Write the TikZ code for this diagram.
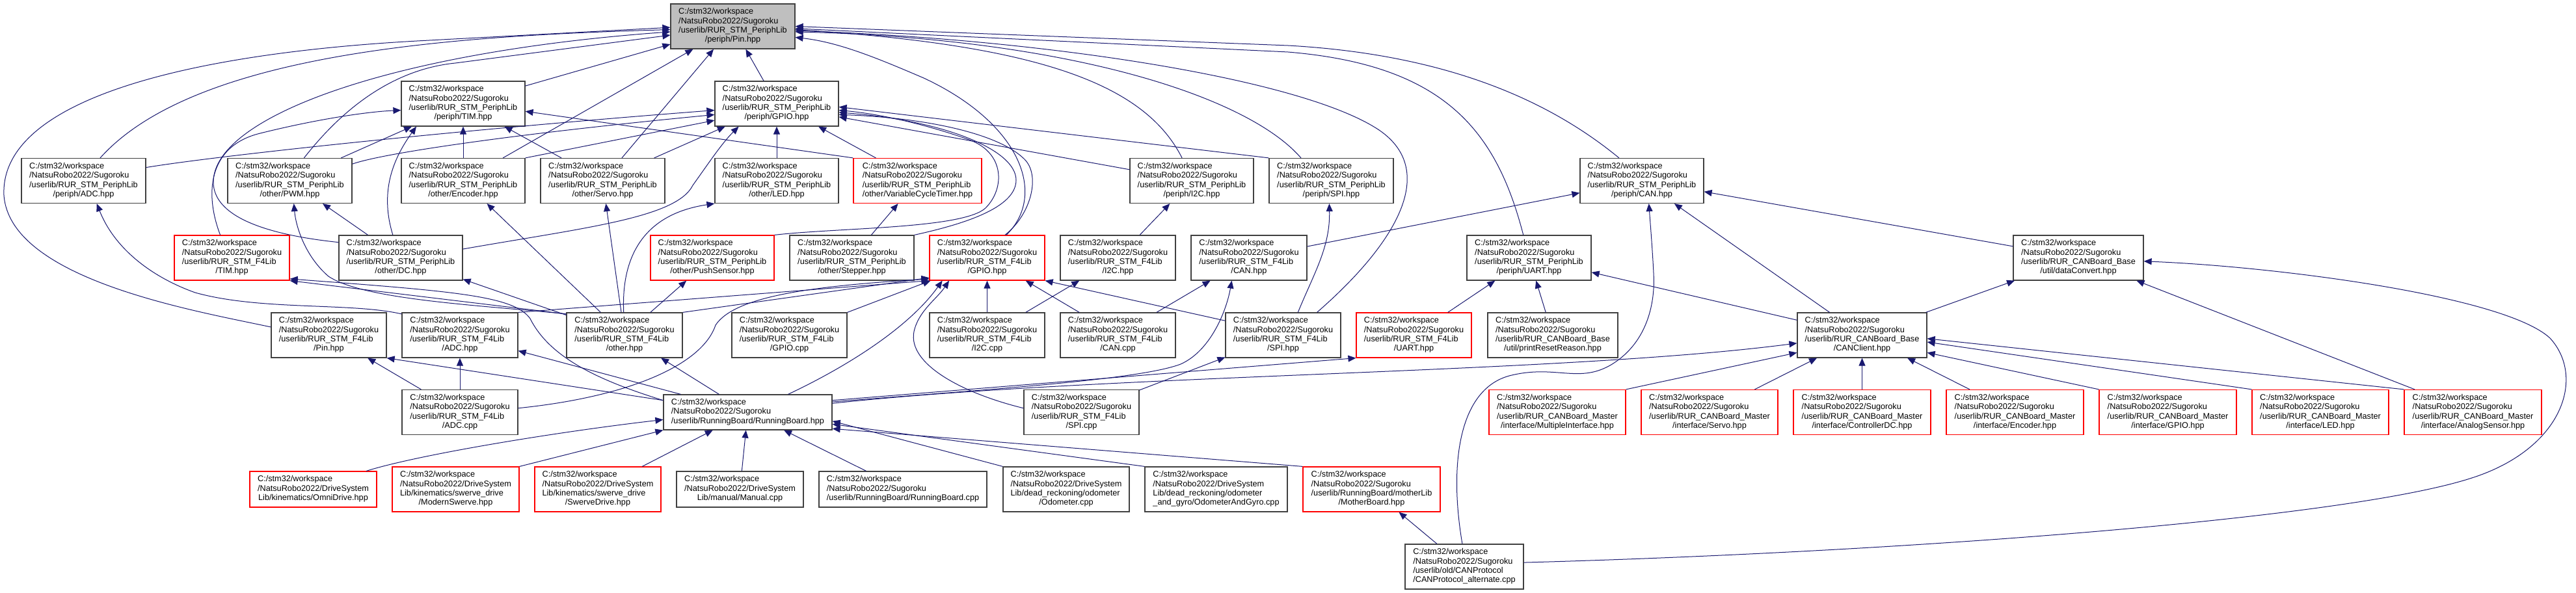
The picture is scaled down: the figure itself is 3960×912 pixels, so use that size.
\documentclass[tikz,border=0pt]{standalone}
\usepackage{fontspec}
\setmainfont{Liberation Sans}
\usetikzlibrary{arrows.meta}

\definecolor{edgeblue}{RGB}{25,25,112}
\definecolor{boxgray}{RGB}{64,64,64}
\definecolor{boxred}{RGB}{255,0,0}
\definecolor{rootgray}{RGB}{191,191,191}

% file label: first lines left, last line centred
\newcommand{\incname}[2]{\begin{tabular}{@{}l@{}}#1\\\multicolumn{1}{@{}c@{}}{#2}\end{tabular}}
\newcommand{\sgk}{C:/stm32/workspace\\/NatsuRobo2022/Sugoroku}
\newcommand{\drv}{C:/stm32/workspace\\/NatsuRobo2022/DriveSystem}
\newcommand{\plib}{\sgk\\/userlib/RUR\_STM\_PeriphLib}
\newcommand{\flib}{\sgk\\/userlib/RUR\_STM\_F4Lib}
\newcommand{\cbase}{\sgk\\/userlib/RUR\_CANBoard\_Base}
\newcommand{\cmaster}{\sgk\\/userlib/RUR\_CANBoard\_Master}

\begin{document}
\begin{tikzpicture}[x=1pt, y=-1pt,
  hdr/.style     = {draw=boxgray, line width=1.2pt, fill=white, inner sep=0pt,
                    minimum height=69pt, font=\fontsize{12.7}{14.4}\selectfont},
  hdrred/.style  = {hdr, draw=boxred},
  hdrroot/.style = {hdr, fill=rootgray},
  inc/.style     = {-{Triangle[length=12pt,width=10pt]}, line width=1pt, edgeblue},
]
\path[use as bounding box, fill=white] (0,0) rectangle (3960,912);

% row 0 / 1
\node[hdrroot, minimum width=191pt] (pinp) at (1126.5,40.5) {\incname{\plib}{/periph/Pin.hpp}};
\node[hdr, minimum width=190pt] (timp)  at (712,159.5)  {\incname{\plib}{/periph/TIM.hpp}};
\node[hdr, minimum width=190pt] (gpiop) at (1194,159.5) {\incname{\plib}{/periph/GPIO.hpp}};

% row 2
\node[hdr, minimum width=191pt] (adcp)  at (128.5,278)  {\incname{\plib}{/periph/ADC.hpp}};
\node[hdr, minimum width=191pt] (pwm)   at (445.5,278)  {\incname{\plib}{/other/PWM.hpp}};
\node[hdr, minimum width=190pt] (enc)   at (712,278)    {\incname{\plib}{/other/Encoder.hpp}};
\node[hdr, minimum width=191pt] (servo) at (926.5,278)  {\incname{\plib}{/other/Servo.hpp}};
\node[hdr, minimum width=190pt] (led)   at (1194,278)   {\incname{\plib}{/other/LED.hpp}};
\node[hdrred, minimum width=197pt] (vct) at (1410.5,278) {\incname{\plib}{/other/VariableCycleTimer.hpp}};
\node[hdr, minimum width=190pt] (i2cp)  at (1832,278)   {\incname{\plib}{/periph/I2C.hpp}};
\node[hdr, minimum width=191pt] (spip)  at (2046.5,278) {\incname{\plib}{/periph/SPI.hpp}};
\node[hdr, minimum width=190pt] (canp)  at (2524,278)   {\incname{\plib}{/periph/CAN.hpp}};

% row 3
\node[hdrred, minimum width=177pt] (timf) at (356.5,396.5) {\incname{\flib}{/TIM.hpp}};
\node[hdr, minimum width=190pt] (dc)      at (616,396.5)    {\incname{\plib}{/other/DC.hpp}};
\node[hdrred, minimum width=190pt] (push) at (1095,396.5)   {\incname{\plib}{/other/PushSensor.hpp}};
\node[hdr, minimum width=191pt] (stepper) at (1309.5,396.5) {\incname{\plib}{/other/Stepper.hpp}};
\node[hdrred, minimum width=177pt] (gpiof) at (1517.5,396.5) {\incname{\flib}{/GPIO.hpp}};
\node[hdr, minimum width=177pt] (i2cf)    at (1718.5,396.5) {\incname{\flib}{/I2C.hpp}};
\node[hdr, minimum width=178pt] (canf)    at (1920,396.5)   {\incname{\flib}{/CAN.hpp}};
\node[hdr, minimum width=191pt] (uartp)   at (2350.5,396.5) {\incname{\plib}{/periph/UART.hpp}};
\node[hdr, minimum width=200pt] (dconv)   at (3195,396.5)   {\incname{\cbase}{/util/dataConvert.hpp}};

% row 4
\node[hdr, minimum width=177pt] (pinf)    at (505.5,515.5)  {\incname{\flib}{/Pin.hpp}};
\node[hdr, minimum width=178pt] (adcf)    at (707,515.5)    {\incname{\flib}{/ADC.hpp}};
\node[hdr, minimum width=178pt] (oth)     at (960,515.5)    {\incname{\flib}{/other.hpp}};
\node[hdr, minimum width=177pt] (gpiocpp) at (1213.5,515.5) {\incname{\flib}{/GPIO.cpp}};
\node[hdr, minimum width=177pt] (i2ccpp)  at (1517.5,515.5) {\incname{\flib}{/I2C.cpp}};
\node[hdr, minimum width=177pt] (cancpp)  at (1718.5,515.5) {\incname{\flib}{/CAN.cpp}};
\node[hdr, minimum width=177pt] (spif)    at (1972.5,515.5) {\incname{\flib}{/SPI.hpp}};
\node[hdrred, minimum width=177pt] (uartf) at (2173.5,515.5) {\incname{\flib}{/UART.hpp}};
\node[hdr, minimum width=200pt] (prr)     at (2387,515.5)   {\incname{\cbase}{/util/printResetReason.hpp}};
\node[hdr, minimum width=199pt] (cancl)   at (2862.5,515.5) {\incname{\cbase}{/CANClient.hpp}};

% row 5
\node[hdr, minimum width=178pt] (adccpp) at (707,634) {\incname{\flib}{/ADC.cpp}};
\node[hdr, minimum width=259pt, minimum height=54pt] (rb) at (1149.5,634)
  {\incname{\sgk}{/userlib/RunningBoard/RunningBoard.hpp}};
\node[hdr, minimum width=177pt] (spicpp) at (1662.5,634) {\incname{\flib}{/SPI.cpp}};
\node[hdrred, minimum width=210pt] (mif)    at (2394,634)   {\incname{\cmaster}{/interface/MultipleInterface.hpp}};
\node[hdrred, minimum width=210pt] (servom) at (2628,634)   {\incname{\cmaster}{/interface/Servo.hpp}};
\node[hdrred, minimum width=211pt] (ctrldc) at (2862.5,634) {\incname{\cmaster}{/interface/ControllerDC.hpp}};
\node[hdrred, minimum width=211pt] (encm)   at (3097.5,634) {\incname{\cmaster}{/interface/Encoder.hpp}};
\node[hdrred, minimum width=211pt] (gpiom)  at (3332.5,634) {\incname{\cmaster}{/interface/GPIO.hpp}};
\node[hdrred, minimum width=210pt] (ledm)   at (3567,634)   {\incname{\cmaster}{/interface/LED.hpp}};
\node[hdrred, minimum width=211pt] (anam)   at (3801.5,634) {\incname{\cmaster}{/interface/AnalogSensor.hpp}};

% row 6 / 7
\node[hdrred, minimum width=195pt, minimum height=55pt] (omni) at (481.5,752.5)
  {\incname{\drv}{Lib/kinematics/OmniDrive.hpp}};
\node[hdrred, minimum width=195pt] (modsw) at (700.5,752.5)
  {\incname{\drv\\Lib/kinematics/swerve\_drive}{/ModernSwerve.hpp}};
\node[hdrred, minimum width=194pt] (swdr) at (919,752.5)
  {\incname{\drv\\Lib/kinematics/swerve\_drive}{/SwerveDrive.hpp}};
\node[hdr, minimum width=195pt, minimum height=55pt] (manual) at (1137.5,752.5)
  {\incname{\drv}{Lib/manual/Manual.cpp}};
\node[hdr, minimum width=258pt, minimum height=55pt] (rbcpp) at (1388,752.5)
  {\incname{\sgk}{/userlib/RunningBoard/RunningBoard.cpp}};
\node[hdr, minimum width=194pt] (odom) at (1639,752.5)
  {\incname{\drv\\Lib/dead\_reckoning/odometer}{/Odometer.cpp}};
\node[hdr, minimum width=219pt] (odgy) at (1869.5,752.5)
  {\incname{\drv\\Lib/dead\_reckoning/odometer}{\_and\_gyro/OdometerAndGyro.cpp}};
\node[hdrred, minimum width=211pt] (mother) at (2108.5,752.5)
  {\incname{\sgk\\/userlib/RunningBoard/motherLib}{/MotherBoard.hpp}};
\node[hdr, minimum width=182pt] (canpa) at (2251,871.5)
  {\incname{\sgk\\/userlib/old/CANProtocol}{/CANProtocol\_alternate.cpp}};

% --- includes of periph/Pin.hpp
\draw[inc] (timp) -- (pinp);
\draw[inc] (gpiop) -- (pinp);
\draw[inc] (enc) -- (pinp);
\draw[inc] (servo) -- (pinp);
\draw[inc] (adcp.54) .. controls (300,80) and (700,55) .. (pinp.183);
\draw[inc] (pwm.58) .. controls (540,150) and (620,105) .. (700,97) -- (pinp.188);
\draw[inc] (dc.166) .. controls (400,360) and (328,330) .. (328,280)
  .. controls (328,180) and (600,80) .. (pinp.185);
\draw[inc] (pinf.172) .. controls (300,478) and (15,430) .. (6,300)
  .. controls (0,150) and (300,80) .. (660,62) -- (pinp.181);
\draw[inc] (gpiof.50) .. controls (1610,300) and (1570,190) .. (1420,120)
  .. controls (1350,90) and (1290,65) .. (pinp.-10);
\draw[inc] (i2cp.113) .. controls (1760,130) and (1600,70) .. (pinp.-3);
\draw[inc] (spip.143) .. controls (1920,150) and (1650,60) .. (pinp.-5);
\draw[inc] (canp.135) .. controls (2400,170) and (2250,85) .. (1980,70) -- (pinp.0);
\draw[inc] (uartp.104) .. controls (2300,200) and (2220,100) .. (1980,80) -- (pinp.-2);
\draw[inc] (spif.34) .. controls (2140,380) and (2215,265) .. (2120,200)
  .. controls (2000,120) and (1600,60) .. (pinp.-4);

% --- includes of periph/TIM.hpp
\draw[inc] (timf.117) .. controls (315,300) and (318,225) .. (400,205)
  .. controls (480,185) and (560,172) .. (timp.186);
\draw[inc] (pwm) -- (timp);
\draw[inc] (dc.109) .. controls (585,300) and (600,250) .. (timp.-154);
\draw[inc] (enc) -- (timp);
\draw[inc] (servo) -- (timp);
\draw[inc] (vct.north west) -- (timp.-7);

% --- includes of periph/GPIO.hpp
\draw[inc] (adcp.12) .. controls (330,240) and (700,200) .. (gpiop.186);
\draw[inc] (pwm.15) .. controls (590,235) and (800,205) .. (gpiop.190);
\draw[inc] (enc.north east) -- (gpiop.195);
\draw[inc] (servo) -- (gpiop);
\draw[inc] (dc.8) .. controls (900,350) and (1040,335) .. (1065,285)
  .. controls (1090,250) and (1110,220) .. (gpiop.-149);
\draw[inc] (led) -- (gpiop);
\draw[inc] (vct) -- (gpiop);
\draw[inc] (push.north east) .. controls (1290,350) and (1480,352) .. (1515,320)
  .. controls (1545,290) and (1545,235) .. (1490,215)
  .. controls (1420,190) and (1350,175) .. (gpiop.-6);
\draw[inc] (stepper.north east) .. controls (1480,345) and (1562,320) .. (1562,277)
  .. controls (1562,230) and (1450,185) .. (gpiop.-8);
\draw[inc] (gpiof.52) .. controls (1585,330) and (1600,270) .. (1575,245)
  .. controls (1530,200) and (1400,180) .. (gpiop.-10);
\draw[inc] (i2cp) -- (gpiop.-12);
\draw[inc] (spip.north west) -- (gpiop.-3);

% --- other PeriphLib headers
\draw[inc] (dc) -- (pwm);
\draw[inc] (stepper) -- (vct);
\draw[inc] (i2cf) -- (i2cp);
\draw[inc] (spif.57) .. controls (2020,420) and (2045,380) .. (spip.-95);
\draw[inc] (canf) -- (canp);
\draw[inc] (canpa.95) .. controls (2228,720) and (2240,600) .. (2320,578)
  .. controls (2390,560) and (2425,590) .. (2475,562)
  .. controls (2530,530) and (2545,470) .. (2542,420)
  .. controls (2540,380) and (2537,345) .. (canp.-73);
\draw[inc] (cancl) -- (canp);
\draw[inc] (dconv) -- (canp);
\draw[inc] (uartf) -- (uartp);
\draw[inc] (prr) -- (uartp);
\draw[inc] (cancl) -- (uartp);

% --- F4Lib headers
\draw[inc] (adcf.160) .. controls (540,465) and (400,478) .. (300,450)
  .. controls (230,425) and (175,380) .. (adcp.-60);
\draw[inc] (oth.160) -- (timf.south east);
\draw[inc] (rb.172) .. controls (920,585) and (845,550) .. (815,490)
  .. controls (790,455) and (700,448) .. (timf.-20);
\draw[inc] (oth.160) .. controls (750,470) and (560,462) .. (505,425)
  .. controls (470,395) and (455,350) .. (pwm.-80);
\draw[inc] (oth) -- (enc);
\draw[inc] (oth) -- (servo);
\draw[inc] (oth.92) .. controls (955,400) and (985,330) .. (led.south west);
\draw[inc] (oth) -- (push);
\draw[inc] (oth) -- (dc);
\draw[inc] (adcf.north east) -- (gpiof.south west);
\draw[inc] (oth.north east) -- (gpiof.-161);
\draw[inc] (adccpp.4) .. controls (970,610) and (1080,560) .. (1100,500)
  .. controls (1130,455) and (1250,440) .. (gpiof.-160);
\draw[inc] (gpiocpp.north east) -- (gpiof.-158);
\draw[inc] (rb.24) .. controls (1310,560) and (1400,500) .. (gpiof.-153);
\draw[inc] (spicpp.176) .. controls (1480,605) and (1395,560) .. (1405,510)
  .. controls (1412,478) and (1440,460) .. (gpiof.-149);
\draw[inc] (i2ccpp) -- (gpiof);
\draw[inc] (cancpp) -- (gpiof);
\draw[inc] (spif.166) -- (gpiof.south east);
\draw[inc] (i2ccpp) -- (i2cf);
\draw[inc] (cancpp) -- (canf);
\draw[inc] (rb.7) .. controls (1500,600) and (1750,585) .. (1815,560)
  .. controls (1860,540) and (1885,480) .. (canf.-127);
\draw[inc] (spicpp) -- (spif);
\draw[inc] (rb.172) -- (pinf.south east);
\draw[inc] (adccpp) -- (pinf);
\draw[inc] (adccpp) -- (adcf);
\draw[inc] (rb) -- (adcf);
\draw[inc] (rb) -- (oth);
\draw[inc] (rb.8) -- (uartf.south west);
\draw[inc] (rb.6) .. controls (1700,575) and (2400,575) .. (cancl.187);

% --- RunningBoard.hpp and below
\draw[inc] (omni.19) .. controls (640,700) and (850,665) .. (rb.185);
\draw[inc] (modsw.north east) -- (rb.south west);
\draw[inc] (swdr) -- (rb);
\draw[inc] (manual) -- (rb);
\draw[inc] (rbcpp) -- (rb);
\draw[inc] (odom.north west) -- (rb.-6);
\draw[inc] (odgy.north west) -- (rb.-8);
\draw[inc] (mother.north west) -- (rb.-11);
\draw[inc] (canpa) -- (mother);
\draw[inc] (canpa.4) .. controls (2900,850) and (3600,800) .. (3800,735)
  .. controls (3940,690) and (3975,580) .. (3920,520)
  .. controls (3850,455) and (3500,410) .. (dconv.-3);

% --- CANClient.hpp
\draw[inc] (mif.north east) -- (cancl.195);
\draw[inc] (servom) -- (cancl);
\draw[inc] (ctrldc) -- (cancl);
\draw[inc] (encm) -- (cancl);
\draw[inc] (gpiom.north west) -- (cancl.-15);
\draw[inc] (ledm.north west) -- (cancl.-6);
\draw[inc] (anam.north west) -- (cancl.-3);
\draw[inc] (cancl) -- (dconv);
\draw[inc] (anam) -- (dconv);

\end{tikzpicture}
\end{document}
